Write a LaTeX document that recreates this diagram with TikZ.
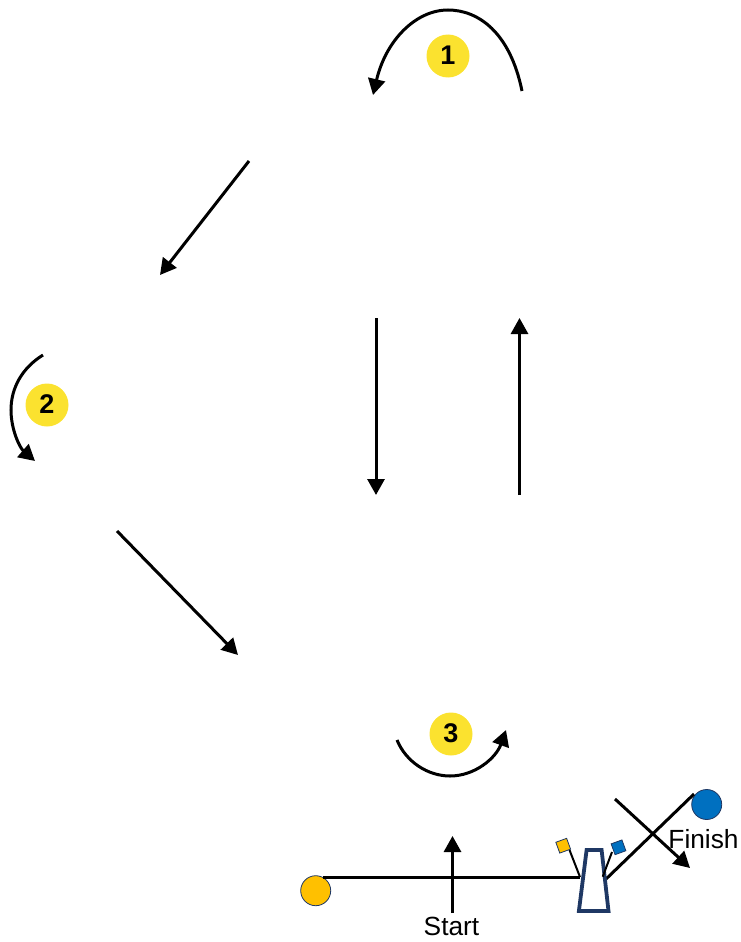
\documentclass[tikz,border=0pt]{standalone}
\usepackage{fontspec}
\setmainfont{Liberation Sans}
\usetikzlibrary{arrows.meta}
\definecolor{badgeY}{HTML}{FBE22F}
\definecolor{navy}{HTML}{1F3864}
\definecolor{gold}{HTML}{FFC000}
\definecolor{azure}{HTML}{0070C0}
\tikzset{
  x=1pt,y=-1pt,
  conn/.style={line width=3pt,-{Triangle[length=16pt,width=17pt]}},
  plain/.style={line width=3pt},
  badge/.style={circle,fill=badgeY,minimum size=43pt,inner sep=0pt,font=\fontsize{27}{27}\selectfont\bfseries},
  ball/.style={circle,draw=navy,line width=0.8pt,minimum size=30pt,inner sep=0pt},
  flagbox/.style={draw=navy,line width=0.8pt,minimum size=11.5pt,inner sep=0pt},
  lbl/.style={font=\fontsize{26.3}{27}\selectfont,inner sep=0pt}
}
\begin{document}
\begin{tikzpicture}
\useasboundingbox (0,0) rectangle (741,942);
% badges
\node[badge] (b1) at (448,56) {\raisebox{1.5pt}{1}};
\node[badge] (b2) at (47,405) {\raisebox{1.5pt}{2}};
\node[badge] (b3) at (451,734) {\raisebox{1.5pt}{3}};
% curved arrows
\coordinate (a1s) at (522,91);
\coordinate (a1e) at (373,95);
\draw[conn] (a1s) .. controls (510,32) and (478,10) .. (448,10) .. controls (416,10) and (386,40) .. (a1e);
\coordinate (a2s) at (43,355);
\coordinate (a2e) at (35,461);
\draw[conn] (a2s) .. controls (22,368) and (11,388) .. (11,410) .. controls (11,430) and (20,448) .. (a2e);
\coordinate (a3s) at (397,740);
\coordinate (a3e) at (506,730);
\draw[conn] (a3s) .. controls (406,762) and (428,776) .. (450,776) .. controls (475,776) and (496,758) .. (a3e);
% straight arrows
\coordinate (p1) at (249,161);
\coordinate (p2) at (160,275);
\draw[conn] (p1) -- (p2);
\coordinate (p3) at (376,318);
\coordinate (p4) at (376,495);
\draw[conn] (p3) -- (p4);
\coordinate (p5) at (519.5,495);
\coordinate (p6) at (519.5,318);
\draw[conn] (p5) -- (p6);
\coordinate (p7) at (117,531);
\coordinate (p8) at (238,655);
\draw[conn] (p7) -- (p8);
% course
\node[ball,fill=gold] (startball) at (315.7,890.7) {};
\node[ball,fill=azure] (finishball) at (706.7,804.5) {};
\coordinate (gl) at (580,877);
\coordinate (gr) at (605,880);
\coordinate (sl) at (323,877);
\coordinate (fl) at (694,794);
\draw[plain] (sl) -- (gl);
\draw[plain] (gr) -- (fl);
% gate
\draw[navy,line width=3.8pt,miter limit=10] (578.9,911) -- (608.5,911) -- (601.6,850) -- (586.6,850) -- cycle;
% flags
\coordinate (ybase) at (569.5,850);
\coordinate (bbase) at (612,852);
\coordinate (bfoot) at (602.7,876.7);
\draw[line width=2pt,black] (ybase) -- (gl);
\draw[line width=2pt,black] (bbase) -- (bfoot);
\node[flagbox,fill=gold,rotate=20] (fy) at (563.2,845.7) {};
\node[flagbox,fill=azure,rotate=20] (fb) at (618.5,847.3) {};
% start and finish
\node[lbl] (start) at (451.5,926) {Start};
\node[lbl] (finish) at (703.5,839) {Finish};
\coordinate (s1) at (452.5,913);
\coordinate (s2) at (452.5,836);
\draw[conn] (s1) -- (s2);
\coordinate (f1) at (615,799);
\coordinate (f2) at (690,868);
\draw[conn] (f1) -- (f2);
\end{tikzpicture}
\end{document}
